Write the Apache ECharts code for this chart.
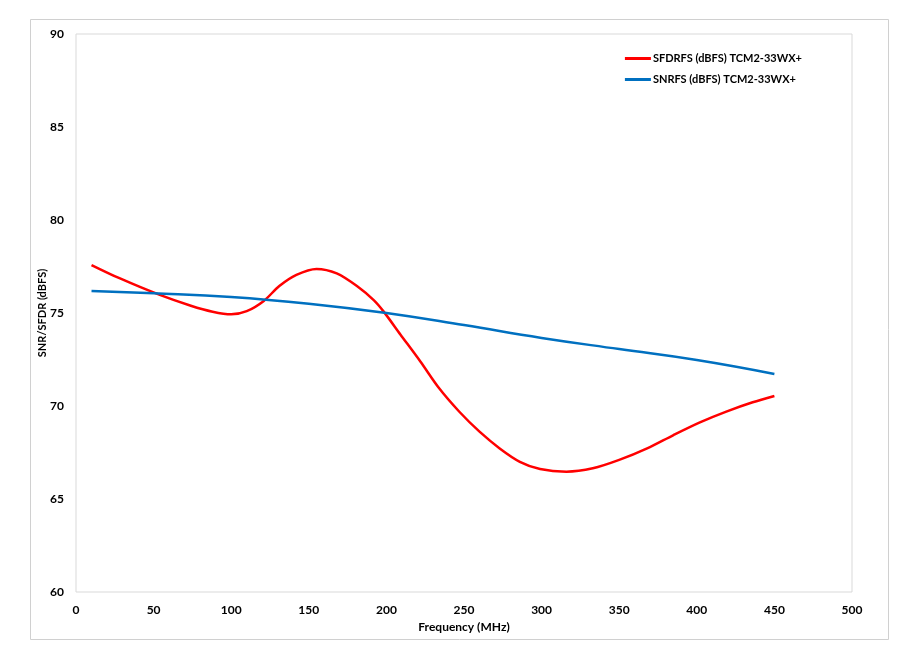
<!DOCTYPE html>
<html><head><meta charset="utf-8">
<script src="https://cdn.jsdelivr.net/npm/echarts@6/dist/echarts.min.js"></script>
<style>html,body{margin:0;padding:0;background:#fff}#c{width:915px;height:660px}</style>
</head><body><div id="c"></div>
<script>
const redX = [10, 28, 54, 74, 88, 100, 110, 121, 131, 142, 155, 168, 181, 192, 198, 209, 222, 234, 247, 260, 273, 286, 299, 316, 333, 350, 368, 385, 402, 419, 436, 450];
const redY = [77.58, 76.87, 75.97, 75.39, 75.07, 74.93, 75.1, 75.65, 76.45, 77.05, 77.37, 77.13, 76.45, 75.68, 75.1, 73.85, 72.38, 70.95, 69.69, 68.62, 67.72, 67.0, 66.61, 66.47, 66.65, 67.1, 67.72, 68.44, 69.12, 69.7, 70.2, 70.54];
const blueX = [10, 50, 100, 150, 200, 250, 300, 350, 400, 450];
const blueY = [76.18, 76.06, 75.86, 75.5, 75.0, 74.35, 73.66, 73.06, 72.47, 71.72];
const redName = 'SFDRFS (dBFS) TCM2-33WX+';
const blueName = 'SNRFS (dBFS) TCM2-33WX+';
const font = 'Lato, "Open Sans", sans-serif';
const chart = echarts.init(document.getElementById('c'));
chart.setOption({
  animation: false,
  backgroundColor: '#fff',
  graphic: [{type: 'rect', shape: {x: 30.5, y: 19.5, width: 858, height: 620}, style: {fill: 'none', stroke: '#d0d0d0', lineWidth: 1}, silent: true}],
  grid: {left: 76, top: 34, right: 63, bottom: 68, show: true, borderColor: '#d9d9d9', borderWidth: 1},
  legend: {
    orient: 'vertical', right: 108, top: 48, itemGap: 10, itemWidth: 26, itemHeight: 3,
    icon: 'rect',
    textStyle: {fontFamily: font, fontWeight: 'bold', fontSize: 11, color: '#000', padding: [0,0,0,-3]},
    data: [redName, blueName]
  },
  xAxis: {
    type: 'value', min: 0, max: 500, interval: 50,
    name: 'Frequency (MHz)', nameLocation: 'middle', nameGap: 21,
    nameTextStyle: {fontFamily: font, fontWeight: 'bold', fontSize: 12, color: '#000'},
    axisLine: {show: false}, axisTick: {show: false}, splitLine: {show: false},
    axisLabel: {fontFamily: font, fontWeight: 'bold', fontSize: 12, color: '#000', margin: 12}
  },
  yAxis: {
    type: 'value', min: 60, max: 90, interval: 5,
    name: 'SNR/SFDR (dBFS)', nameLocation: 'middle', nameGap: 28, nameRotate: 90,
    nameMoveOverlap: false,
    nameTextStyle: {fontFamily: font, fontWeight: 'bold', fontSize: 11, color: '#000'},
    axisLine: {show: false}, axisTick: {show: false}, splitLine: {show: false},
    axisLabel: {fontFamily: font, fontWeight: 'bold', fontSize: 12, color: '#000', margin: 12}
  },
  series: [
    {name: redName, type: 'line', smooth: 0.3, showSymbol: false, color: '#ff0000',
     lineStyle: {width: 2.5, color: '#ff0000'},
     data: redX.map((x, i) => [x, redY[i]])},
    {name: blueName, type: 'line', smooth: 0.45, showSymbol: false, color: '#0070c0',
     lineStyle: {width: 2.5, color: '#0070c0'},
     data: blueX.map((x, i) => [x, blueY[i]])}
  ]
});
</script></body></html>
